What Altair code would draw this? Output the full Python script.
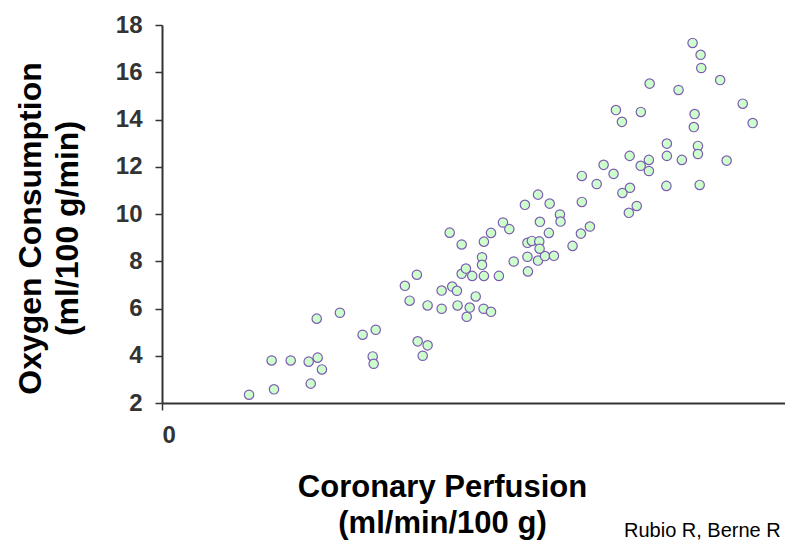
import altair as alt
import pandas as pd

# Coronary perfusion (ml/min/100 g) and oxygen consumption (ml/100 g/min)
perfusion = [55.2, 71.0, 69.5, 81.6, 93.0, 98.7, 101.4, 94.3, 98.1, 112.8,
             127.2, 135.5, 133.6, 134.2, 162.1, 168.4, 165.3, 161.6, 154.0, 157.0,
             168.4, 177.3, 187.4, 195.1, 203.9, 208.6, 193.2, 177.3, 184.0, 187.0,
             198.9, 190.0, 196.7, 204.1, 213.6, 192.7, 202.9, 202.9, 190.0, 182.4,
             204.1, 208.6, 216.2, 220.2, 223.0, 232.0, 231.7, 238.4, 242.8, 248.5,
             231.7, 234.5, 239.2, 239.4, 245.3, 239.6, 252.3, 252.7, 230.1, 238.4,
             245.8, 260.3, 265.6, 271.3, 266.2, 266.2, 275.6, 280.0, 286.3, 291.9,
             296.7, 296.0, 301.0, 296.5, 308.7, 303.5, 308.7, 319.8, 340.9, 320.1,
             320.1, 329.6, 339.8, 339.8, 358.0, 287.8, 291.6, 303.6, 309.2, 327.5,
             337.7, 337.2, 336.4, 341.5, 341.9, 353.9, 368.2, 374.5]
oxygen = [2.35, 2.58, 3.80, 3.80, 3.75, 3.92, 3.42, 2.82, 5.57, 5.82,
          4.89, 5.10, 3.97, 3.66, 4.61, 4.44, 4.00, 7.43, 6.96, 6.33,
          6.13, 5.99, 6.13, 6.04, 5.99, 5.86, 5.65, 6.76, 6.93, 6.75,
          6.51, 7.47, 7.38, 7.38, 7.38, 7.69, 8.17, 7.85, 8.71, 9.21,
          8.83, 9.20, 9.64, 9.36, 7.99, 7.57, 8.19, 8.03, 8.22, 8.23,
          8.78, 8.86, 8.84, 8.53, 9.20, 9.67, 9.98, 9.68, 10.39, 10.82,
          10.44, 8.65, 9.17, 9.47, 10.51, 11.61, 11.27, 12.08, 11.70, 10.89,
          11.11, 10.05, 10.34, 12.46, 12.29, 12.04, 11.82, 11.19, 11.23, 12.98,
          12.46, 12.29, 12.88, 12.54, 12.26, 14.40, 13.90, 14.32, 15.52, 15.25,
          14.23, 13.68, 17.24, 16.74, 16.18, 15.67, 14.67, 13.85]

y_ticks = [2, 4, 6, 8, 10, 12, 14, 16, 18]
x_ticks = [0]
x_title = ["Coronary Perfusion", "(ml/min/100 g)"]
y_title = ["Oxygen Consumption", "(ml/100 g/min)"]
citation = ["Rubio R, Berne R"]

df = pd.DataFrame({"perfusion": perfusion, "oxygen": oxygen})
cite_df = pd.DataFrame({"label": citation})

FONT = "Liberation Sans"

points = alt.Chart(df).mark_point(
    shape="circle", filled=True, size=88, fill="#ccffcc", stroke="#7e5bb3",
    strokeWidth=1.2, opacity=1
).encode(
    x=alt.X("perfusion:Q",
            scale=alt.Scale(domain=[0, 395], nice=False, zero=True),
            axis=alt.Axis(values=x_ticks, title=x_title, grid=False,
                          tickSize=7, tickColor="#333333", tickWidth=1.5,
                          domainColor="#333333", domainWidth=2,
                          labelFont=FONT, labelFontSize=24, labelFontWeight="bold",
                          labelColor="#333333", labelPadding=13,
                          titleFont=FONT, titleFontSize=31, titleFontWeight="bold",
                          titleColor="#000000", titleX=280, titleY=93,
                          titleAlign="center", titleBaseline="alphabetic",
                          titleLineHeight=36)),
    y=alt.Y("oxygen:Q",
            scale=alt.Scale(domain=[2, 18], nice=False, zero=False),
            axis=alt.Axis(values=y_ticks, title=y_title, grid=False,
                          tickSize=7, tickColor="#333333", tickWidth=1.5,
                          domainColor="#333333", domainWidth=2,
                          labelFont=FONT, labelFontSize=24, labelFontWeight="bold",
                          labelColor="#333333", labelPadding=13,
                          titleFont=FONT, titleFontSize=32, titleFontWeight="bold",
                          titleColor="#000000", titleAngle=270, titleX=-122,
                          titleY=203, titleAlign="center",
                          titleBaseline="alphabetic", titleLineHeight=37)),
)

cite = alt.Chart(cite_df).mark_text(
    align="left", baseline="alphabetic", font=FONT, fontSize=20, color="#000000"
).encode(
    text="label:N",
    x=alt.value(462),
    y=alt.value(512),
)

chart = alt.layer(points, cite).properties(
    width=623, height=378,
    autosize=alt.AutoSizeParams(type="none"),
    padding={"left": 154, "top": 17, "right": 0, "bottom": 141},
).configure_view(stroke=None)

chart.save("out.html", embed_options={"renderer": "svg", "actions": False})
